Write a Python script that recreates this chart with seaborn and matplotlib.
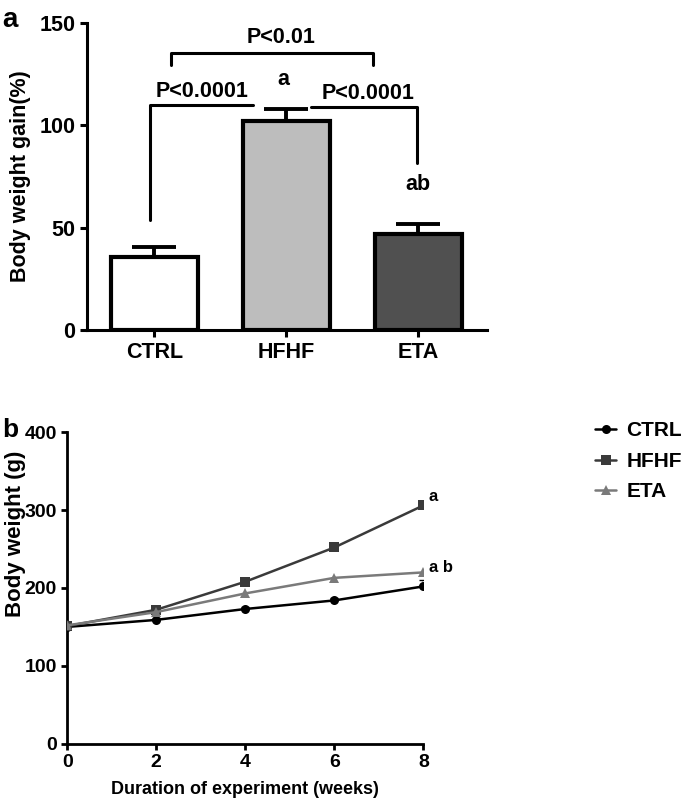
import numpy as np
import pandas as pd
import matplotlib
matplotlib.use('Agg')
import matplotlib.pyplot as plt
import seaborn as sns

# panel a data
groups = ['CTRL', 'HFHF', 'ETA']
gain_mean = [35.5, 102.0, 47.0]
gain_sem = [5.0, 6.0, 4.7]
bar_colors = ['#ffffff', '#bdbdbd', '#505050']

# panel b data
weeks = [0, 2, 4, 6, 8]
ctrl_bw = [150, 159, 173, 184, 202]
hfhf_bw = [151, 172, 208, 252, 306]
eta_bw = [152, 169, 193, 213, 220]
ctrl_err = [2, 2, 2, 3, 8]
line_colors = {'CTRL': '#000000', 'HFHF': '#3a3a3a', 'ETA': '#7a7a7a'}
line_markers = {'CTRL': 'o', 'HFHF': 's', 'ETA': '^'}

sns.set_style('ticks')
plt.rcParams['font.family'] = ['Liberation Sans', 'DejaVu Sans']
plt.rcParams['font.weight'] = 'bold'
plt.rcParams['axes.labelweight'] = 'bold'
for k in ['text.color', 'axes.labelcolor', 'xtick.color', 'ytick.color', 'axes.edgecolor']:
    plt.rcParams[k] = 'black'
fs = 15.5

fig = plt.figure(figsize=(6.85, 8.11), dpi=100)

# ---------- panel a ----------
ax1 = fig.add_axes([0.127, 0.593, 0.584, 0.379])
df_a = pd.DataFrame({'group': groups, 'gain': gain_mean})
sns.barplot(data=df_a, x='group', y='gain', hue='group', palette=bar_colors,
            width=0.66, edgecolor='black', linewidth=3, legend=False, ax=ax1)
ax1.errorbar(range(len(groups)), gain_mean, yerr=[[0, 0, 0], gain_sem],
             fmt='none', ecolor='black', elinewidth=2.8, capsize=16, capthick=2.8)
ax1.set_xlim(-0.51, 2.52)
ax1.set_ylim(0, 150)
ax1.set_yticks([0, 50, 100, 150])
ax1.set_xlabel('')
ax1.set_ylabel('Body weight gain(%)', fontsize=fs, fontweight='bold')
ax1.yaxis.set_label_coords(-0.14, 0.5)
ax1.tick_params(labelsize=fs, width=2.2, length=5)
for lab in ax1.get_xticklabels() + ax1.get_yticklabels():
    lab.set_fontweight('bold')
sns.despine(ax=ax1)
for s in ['left', 'bottom']:
    ax1.spines[s].set_linewidth(2.2)

# significance brackets
ax1.plot([0.13, 0.13, 1.66, 1.66], [129.5, 135, 135, 129.5], color='black', lw=2.2, clip_on=False)
ax1.text(0.96, 137.5, 'P<0.01', ha='center', va='bottom', fontsize=fs, fontweight='bold')
ax1.plot([-0.03, -0.03, 0.75], [53.7, 110, 110], color='black', lw=2.2, clip_on=False)
ax1.text(0.36, 111.5, 'P<0.0001', ha='center', va='bottom', fontsize=fs, fontweight='bold')
ax1.plot([1.19, 1.99, 1.99], [109, 109, 81.5], color='black', lw=2.2, clip_on=False)
ax1.text(1.62, 110.5, 'P<0.0001', ha='center', va='bottom', fontsize=fs, fontweight='bold')
ax1.text(0.98, 122.5, 'a', ha='center', va='center', fontsize=fs, fontweight='bold')
ax1.text(2.0, 71, 'ab', ha='center', va='center', fontsize=fs, fontweight='bold')
fig.text(0.003, 0.975, 'a', fontsize=20, fontweight='bold', va='center')

# ---------- panel b ----------
ax2 = fig.add_axes([0.098, 0.083, 0.52, 0.384])
df_b = pd.DataFrame({
    'week': weeks * 3,
    'bw': ctrl_bw + hfhf_bw + eta_bw,
    'group': ['CTRL'] * 5 + ['HFHF'] * 5 + ['ETA'] * 5,
})
sns.lineplot(data=df_b, x='week', y='bw', hue='group', style='group',
             palette=line_colors, markers=line_markers, dashes=False,
             markersize=6.5, markeredgewidth=0, linewidth=1.8, ax=ax2, zorder=3)
ax2.errorbar(weeks, ctrl_bw, yerr=[[0] * 5, ctrl_err], fmt='none',
             ecolor='black', elinewidth=1, capsize=3, zorder=2)
ax2.set_xlim(0, 8)
ax2.set_ylim(0, 400)
ax2.set_xticks([0, 2, 4, 6, 8])
ax2.set_yticks([0, 100, 200, 300, 400])
ax2.set_xlabel('Duration of experiment (weeks)', fontsize=13, fontweight='bold', labelpad=7)
ax2.set_ylabel('Body weight (g)', fontsize=16, fontweight='bold')
ax2.yaxis.set_label_coords(-0.115, 0.673)
ax2.tick_params(labelsize=14, width=2, length=4)
for lab in ax2.get_xticklabels() + ax2.get_yticklabels():
    lab.set_fontweight('bold')
sns.despine(ax=ax2)
for s in ['left', 'bottom']:
    ax2.spines[s].set_linewidth(2)
ax2.text(8.12, hfhf_bw[-1] + 2, 'a', ha='left', va='bottom', fontsize=12, fontweight='bold')
ax2.text(8.12, eta_bw[-1] - 3, 'a b', ha='left', va='bottom', fontsize=12, fontweight='bold')
leg = ax2.legend(loc='upper left', bbox_to_anchor=(1.43, 1.095), frameon=False,
                 fontsize=15, handlelength=1.0, handletextpad=0.5, labelspacing=0.55)
for t in leg.get_texts():
    t.set_fontweight('bold')
fig.text(0.003, 0.47, 'b', fontsize=19, fontweight='bold', va='center')

fig.savefig('out.png', dpi=100)
